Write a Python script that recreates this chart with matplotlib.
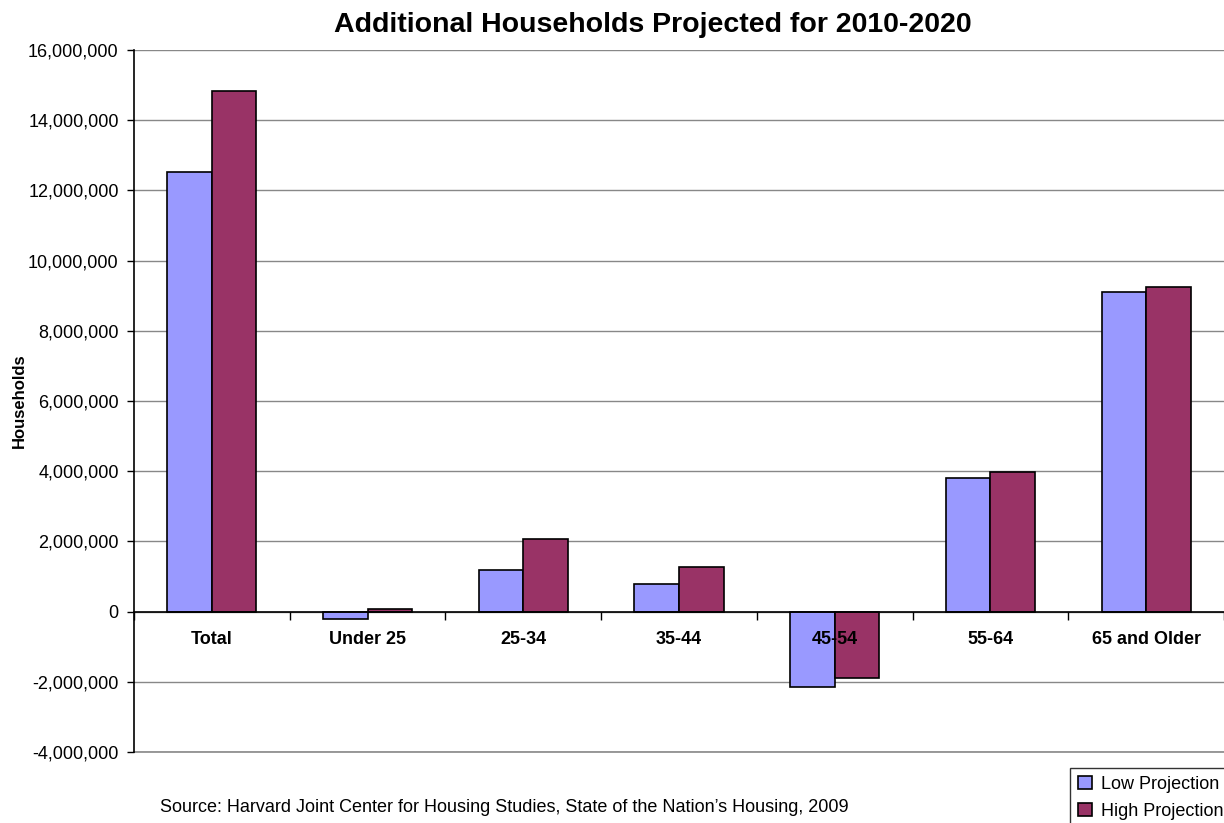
import matplotlib
matplotlib.use("Agg")
import matplotlib.pyplot as plt
import numpy as np
from matplotlib.ticker import FuncFormatter, FixedLocator

categories = ["Total", "Under 25", "25-34", "35-44", "45-54", "55-64", "65 and Older"]
low_projection = [12520000, -220000, 1190000, 790000, -2160000, 3810000, 9110000]
high_projection = [14830000, 75000, 2070000, 1270000, -1900000, 3980000, 9250000]
yticks = list(range(-4000000, 16000001, 2000000))

plt.rcParams['font.family'] = ['Liberation Sans', 'DejaVu Sans']

fig = plt.figure(figsize=(12.24, 8.23), dpi=100)
ax = fig.add_axes([134/1224, 1-752/823, 1-134/1224, (752-50)/823])

x = np.arange(len(categories))
w = 0.286
ax.bar(x - w/2, low_projection, width=w, color="#9999FF", edgecolor="black", linewidth=1.2, label="Low Projection", zorder=3)
ax.bar(x + w/2, high_projection, width=w, color="#993366", edgecolor="black", linewidth=1.2, label="High Projection", zorder=3)

ax.set_xlim(-0.5, len(categories) - 0.5)
ax.set_ylim(-4000000, 16000000)
ax.set_yticks(yticks)
ax.yaxis.set_major_formatter(FuncFormatter(lambda v, p: f"{int(v):,}"))
ax.tick_params(axis='y', labelsize=13, length=5, width=1, direction='out', pad=6)
ax.yaxis.grid(True, color="#888888", linewidth=1, zorder=0)
ax.axhline(yticks[0], color="#888888", linewidth=1.2, clip_on=False, zorder=1)

ax.spines['bottom'].set_position(('data', 0))
ax.spines['bottom'].set_zorder(4)
ax.spines['top'].set_visible(False)
ax.spines['right'].set_visible(False)
ax.spines['left'].set_linewidth(1.2)
ax.spines['bottom'].set_linewidth(1.2)

ax.set_xticks(x)
ax.set_xticklabels(categories, fontweight='bold', fontsize=13)
ax.tick_params(axis='x', which='major', length=0, pad=14)
ax.xaxis.set_minor_locator(FixedLocator(np.arange(-0.5, len(categories) + 0.5, 1.0)))
ax.tick_params(axis='x', which='minor', length=6, width=1, direction='out')
ax.xaxis.set_zorder(5)

ax.set_ylabel("Households", fontweight='bold', fontsize=12)
ax.yaxis.set_label_coords(-0.098, 0.5)

fig.text(653/1224, 1-25/823, "Additional Households Projected for 2010-2020",
         ha='center', va='center', fontsize=20.5, fontweight='bold')
fig.text(160/1224, 1-808/823, "Source: Harvard Joint Center for Housing Studies, State of the Nation\u2019s Housing, 2009",
         ha='left', va='center', fontsize=13)

leg = fig.legend(loc='lower right', bbox_to_anchor=(1.006, -0.006), fontsize=13, frameon=True,
                 fancybox=False, edgecolor='black', handlelength=0.75, handleheight=0.75,
                 handletextpad=0.5, borderpad=0.45, labelspacing=0.55, borderaxespad=0.0)
leg.get_frame().set_linewidth(1)

fig.savefig("out.png", dpi=100)
